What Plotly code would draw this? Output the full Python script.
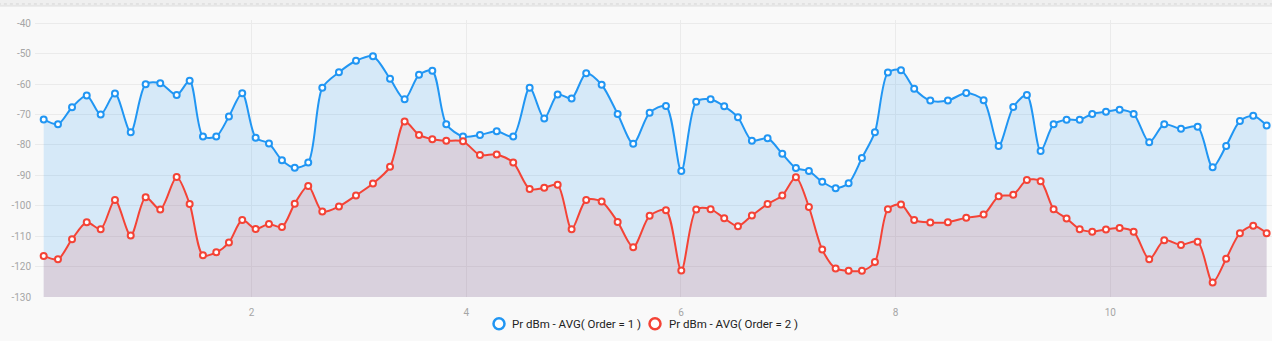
import plotly.graph_objects as go

# Sample positions along the x axis
x_vals = [0.062, 0.195, 0.326, 0.463, 0.593, 0.726, 0.873, 1.012, 1.148, 1.301,
          1.422, 1.546, 1.670, 1.788, 1.912, 2.037, 2.161, 2.282, 2.401, 2.527,
          2.658, 2.813, 2.972, 3.130, 3.289, 3.425, 3.559, 3.683, 3.813, 3.969,
          4.127, 4.283, 4.437, 4.590, 4.726, 4.851, 4.981, 5.117, 5.261, 5.410,
          5.555, 5.708, 5.860, 6.003, 6.142, 6.276, 6.403, 6.531, 6.661, 6.807,
          6.944, 7.071, 7.192, 7.316, 7.441, 7.562, 7.686, 7.807, 7.928, 8.050,
          8.173, 8.323, 8.487, 8.658, 8.820, 8.960, 9.096, 9.223, 9.351, 9.472,
          9.593, 9.715, 9.832, 9.960, 10.087, 10.218, 10.363, 10.503, 10.659, 10.814,
          10.954, 11.080, 11.208, 11.332, 11.457]

# Pr dBm averages, Order = 1
order1_dbm = [-71.6, -73.2, -67.6, -63.7, -70.0, -63.1, -75.8, -60.0, -59.7, -63.6,
              -58.9, -77.2, -77.2, -70.6, -63.0, -77.6, -79.5, -85.0, -87.5, -85.8,
              -61.2, -56.1, -52.3, -50.8, -58.2, -65.0, -56.9, -55.6, -73.2, -77.2,
              -76.7, -75.5, -77.2, -61.2, -71.3, -63.4, -64.7, -56.4, -60.2, -69.8,
              -79.6, -69.4, -67.2, -88.6, -65.8, -65.0, -67.3, -70.9, -78.6, -77.8,
              -82.9, -87.6, -88.6, -92.1, -94.2, -92.6, -84.3, -75.8, -56.2, -55.4,
              -61.5, -65.4, -65.4, -62.9, -65.3, -80.3, -67.5, -63.6, -82.0, -73.2,
              -71.7, -71.7, -69.8, -69.1, -68.4, -69.8, -79.1, -73.2, -74.7, -74.0,
              -87.3, -80.3, -72.1, -70.4, -73.6]

# Pr dBm averages, Order = 2
order2_dbm = [-116.5, -117.6, -111.0, -105.4, -107.7, -98.1, -109.8, -97.2, -101.2, -90.5,
              -99.4, -116.3, -115.3, -112.1, -104.7, -107.6, -106.0, -107.0, -99.3, -93.5,
              -101.9, -100.2, -96.6, -92.7, -87.2, -72.3, -76.7, -78.1, -78.6, -78.8,
              -83.3, -83.1, -85.8, -94.5, -94.1, -93.1, -107.7, -98.1, -98.6, -105.3,
              -113.6, -103.3, -101.5, -121.3, -101.2, -101.1, -104.1, -106.7, -103.2, -99.4,
              -96.6, -90.6, -100.4, -114.4, -120.6, -121.4, -121.4, -118.5, -101.1, -99.6,
              -104.7, -105.5, -105.4, -103.9, -102.9, -96.9, -96.4, -91.5, -91.9, -101.1,
              -104.2, -107.7, -108.5, -107.8, -107.3, -108.5, -117.6, -111.3, -112.9, -111.8,
              -125.2, -117.4, -109.0, -106.6, -109.0]

series_names = ["Pr dBm - AVG( Order = 1 )", "Pr dBm - AVG( Order = 2 )"]
y_ticks = [-40, -50, -60, -70, -80, -90, -100, -110, -120, -130]
x_ticks = [2, 4, 6, 8, 10]
y_floor = -130

BLUE = "#2196f3"
RED = "#f44336"
BG = "#f9f9f9"

# plot-area geometry in pixels, used to place the custom legend
FIG_W, FIG_H = 1272, 341
M_L, M_R, M_T, M_B = 35, 0, 20, 44.3
PLOT_W = FIG_W - M_L - M_R
PLOT_H = FIG_H - M_T - M_B


def px_to_paper_x(px):
    return (px - M_L) / PLOT_W


def px_to_paper_y(py):
    return (FIG_H - M_B - py) / PLOT_H


fig = go.Figure()

for values, color, fill, name in [
    (order1_dbm, BLUE, "rgba(33,150,243,0.16)", series_names[0]),
    (order2_dbm, RED, "rgba(244,67,54,0.14)", series_names[1]),
]:
    # baseline for the area fill
    fig.add_trace(go.Scatter(
        x=x_vals, y=[y_floor] * len(x_vals), mode="lines",
        line=dict(width=0, color="rgba(0,0,0,0)"),
        showlegend=False, hoverinfo="skip",
    ))
    fig.add_trace(go.Scatter(
        x=x_vals, y=values, mode="lines+markers", name=name,
        fill="tonexty", fillcolor=fill,
        line=dict(color=color, width=2, shape="spline", smoothing=0.8),
        marker=dict(symbol="circle", size=6, color="white",
                    line=dict(color=color, width=2)),
        showlegend=False,
    ))

# legend: hollow circle + label for each series, centred under the plot
legend_y = px_to_paper_y(323.5)
for (cx, tx), color, name in zip([(499, 510), (655, 666.5)], [BLUE, RED], series_names):
    fig.add_shape(type="circle", xref="paper", yref="paper",
                  xsizemode="pixel", ysizemode="pixel",
                  xanchor=px_to_paper_x(cx), yanchor=legend_y,
                  x0=-5.5, x1=5.5, y0=-5.5, y1=5.5,
                  fillcolor="white", line=dict(color=color, width=2.5))
    fig.add_annotation(xref="paper", yref="paper", x=px_to_paper_x(tx), y=legend_y,
                       xanchor="left", yanchor="middle", text=name, showarrow=False,
                       font=dict(family="Roboto", size=11.5, color="#222222"))

# thin grey strip along the top of the page
fig.add_shape(type="rect", xref="paper", yref="paper",
              x0=-0.03, x1=1.0, y0=px_to_paper_y(6), y1=px_to_paper_y(-2),
              fillcolor="#efefef", line=dict(width=0), layer="below")
fig.add_shape(type="line", xref="paper", yref="paper",
              x0=-0.03, x1=1.0, y0=px_to_paper_y(6), y1=px_to_paper_y(6),
              line=dict(color="#dedede", width=1))
fig.add_shape(type="line", xref="paper", yref="paper",
              x0=-0.03, x1=1.0, y0=px_to_paper_y(4), y1=px_to_paper_y(4),
              line=dict(color="#d6d6d6", width=1, dash="dot"))

fig.update_layout(
    width=FIG_W, height=FIG_H,
    margin=dict(l=M_L, r=M_R, t=M_T, b=M_B),
    paper_bgcolor=BG, plot_bgcolor=BG,
    font=dict(family="Roboto", size=10, color="#a6a6a6"),
    showlegend=False,
    xaxis=dict(range=[-0.019, 11.507], tickvals=x_ticks,
               ticktext=[str(v) for v in x_ticks],
               showgrid=True, gridcolor="#ebebeb", gridwidth=1,
               zeroline=False, showline=False, ticks="",
               ticklabelstandoff=8, fixedrange=True),
    yaxis=dict(range=[y_floor, -38.9], tickvals=y_ticks,
               ticktext=[str(v) for v in y_ticks],
               showgrid=True, gridcolor="#ebebeb", gridwidth=1,
               zeroline=False, showline=False, ticks="",
               ticklabelstandoff=3, fixedrange=True),
)

fig.write_html("out.html")
